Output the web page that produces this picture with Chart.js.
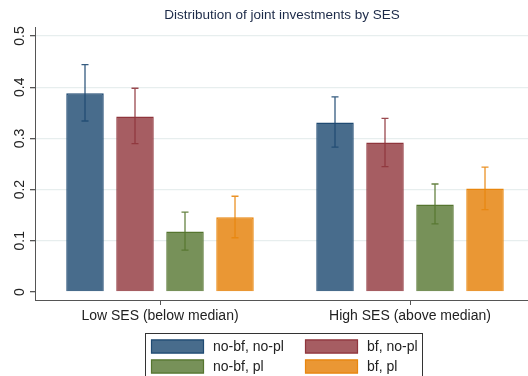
<!DOCTYPE html>
<html>
<head>
<meta charset="utf-8">
<script src="https://cdn.jsdelivr.net/npm/chart.js@4"></script>
<style>
  html, body { margin: 0; padding: 0; background: #ffffff; overflow: hidden; }
  #wrap { width: 528px; height: 376px; position: relative; }
</style>
</head>
<body>
<div id="wrap"><canvas id="chart"></canvas></div>
<script>
// Group labels along the x axis
const categories = ['Low SES (below median)', 'High SES (above median)'];
const seriesNames = ['no-bf, no-pl', 'bf, no-pl', 'no-bf, pl', 'bf, pl'];

// Mean share of joint investments per group
const meanNoBfNoPl = [0.388, 0.331];
const meanBfNoPl   = [0.343, 0.292];
const meanNoBfPl   = [0.118, 0.171];
const meanBfPl     = [0.146, 0.202];

// Confidence interval bounds
const lowNoBfNoPl  = [0.334, 0.283];
const highNoBfNoPl = [0.444, 0.381];
const lowBfNoPl    = [0.290, 0.245];
const highBfNoPl   = [0.398, 0.339];
const lowNoBfPl    = [0.082, 0.133];
const highNoBfPl   = [0.156, 0.211];
const lowBfPl      = [0.106, 0.161];
const highBfPl     = [0.187, 0.244];

const yTicks = [0, 0.1, 0.2, 0.3, 0.4, 0.5];

const FONT = "'Liberation Sans', Arial, Helvetica, sans-serif";

const fills   = ['#486c8c', '#a65d62', '#779159', '#ea9734'];
const borders = ['#1f4a72', '#8f353c', '#55752f', '#e8860e'];
const means = [meanNoBfNoPl, meanBfNoPl, meanNoBfPl, meanBfPl];
const lows  = [lowNoBfNoPl, lowBfNoPl, lowNoBfPl, lowBfPl];
const highs = [highNoBfNoPl, highBfNoPl, highNoBfPl, highBfPl];

const datasets = seriesNames.map((name, i) => ({
  label: name,
  data: means[i].map((v, j) => ({ x: j, y: v })),
  low: lows[i],
  high: highs[i],
  backgroundColor: fills[i],
  borderColor: borders[i],
  borderWidth: 1.5,
  categoryPercentage: 0.8,
  barPercentage: 0.75
}));

// Confidence-interval caps drawn on top of each bar
const errorBars = {
  id: 'errorBars',
  afterDatasetsDraw(chart) {
    const ctx = chart.ctx;
    const y = chart.scales.y;
    chart.data.datasets.forEach((ds, i) => {
      const meta = chart.getDatasetMeta(i);
      meta.data.forEach((bar, j) => {
        const yHi = y.getPixelForValue(ds.high[j]);
        const yLo = y.getPixelForValue(ds.low[j]);
        const x = bar.x;
        ctx.save();
        ctx.strokeStyle = ds.borderColor;
        ctx.globalAlpha = 0.9;
        ctx.lineWidth = 1.3;
        ctx.beginPath();
        ctx.moveTo(x, yHi); ctx.lineTo(x, yLo);
        ctx.moveTo(x - 3.5, yHi); ctx.lineTo(x + 3.5, yHi);
        ctx.moveTo(x - 3.5, yLo); ctx.lineTo(x + 3.5, yLo);
        ctx.stroke();
        ctx.restore();
      });
    });
  }
};

// Title and boxed two-column legend
const annotations = {
  id: 'annotations',
  afterDraw(chart) {
    const ctx = chart.ctx;
    ctx.save();
    ctx.fillStyle = '#1c2a48';
    ctx.font = '13.5px ' + FONT;
    ctx.textAlign = 'center';
    ctx.textBaseline = 'middle';
    ctx.fillText('Distribution of joint investments by SES', 282, 15);

    ctx.strokeStyle = '#333333';
    ctx.lineWidth = 1;
    ctx.strokeRect(145.5, 333.5, 277, 60);

    ctx.font = '14px ' + FONT;
    ctx.textAlign = 'left';
    ctx.fillStyle = '#222222';
    chart.data.datasets.forEach((ds, i) => {
      const col = i % 2, row = Math.floor(i / 2);
      const sx = col === 0 ? 151 : 305;
      const sy = row === 0 ? 339.5 : 359.5;
      ctx.fillStyle = ds.backgroundColor;
      ctx.fillRect(sx, sy, 53, 14);
      ctx.strokeStyle = ds.borderColor;
      ctx.lineWidth = 1.2;
      ctx.strokeRect(sx + 0.5, sy + 0.5, 52, 13);
      ctx.fillStyle = '#222222';
      ctx.fillText(ds.label, sx + 62, sy + 7.5);
    });
    ctx.restore();
  }
};

new Chart(document.getElementById('chart'), {
  type: 'bar',
  data: { datasets },
  options: {
    responsive: true,
    maintainAspectRatio: false,
    animation: false,
    layout: { padding: { top: 27, right: 0, bottom: 0, left: 0 } },
    plugins: {
      legend: { display: false },
      title: { display: false },
      tooltip: { enabled: false }
    },
    scales: {
      x: {
        type: 'linear',
        offset: false,
        min: -0.5,
        max: 1.472,
        afterBuildTicks(scale) { scale.ticks = categories.map((c, i) => ({ value: i })); },
        afterFit(scale) { scale.height = 76; },
        grid: { offset: false, drawOnChartArea: false, drawTicks: true, tickLength: 5, tickColor: '#555555', lineWidth: 1 },
        border: { display: true, color: '#555555', width: 1 },
        ticks: {
          font: { family: FONT, size: 14 },
          color: '#222222',
          padding: 3,
          maxRotation: 0,
          autoSkip: false,
          callback: (v) => categories[v] ?? ''
        }
      },
      y: {
        min: -0.0156,
        max: 0.5176,
        afterBuildTicks(scale) { scale.ticks = yTicks.map(v => ({ value: v })); },
        afterFit(scale) { scale.width = 35; },
        grid: {
          color: (c) => (c.tick && c.tick.value === 0) ? 'rgba(0,0,0,0)' : '#e7eeee',
          lineWidth: 1.3,
          drawTicks: true,
          tickLength: 5,
          tickColor: '#555555'
        },
        border: { display: true, color: '#555555', width: 1 },
        ticks: {
          font: { family: FONT, size: 14 },
          color: '#222222',
          padding: 0,
          minRotation: 90,
          maxRotation: 90,
          crossAlign: 'center',
          callback: (v) => String(v)
        }
      }
    }
  },
  plugins: [errorBars, annotations]
});
</script>
</body>
</html>
